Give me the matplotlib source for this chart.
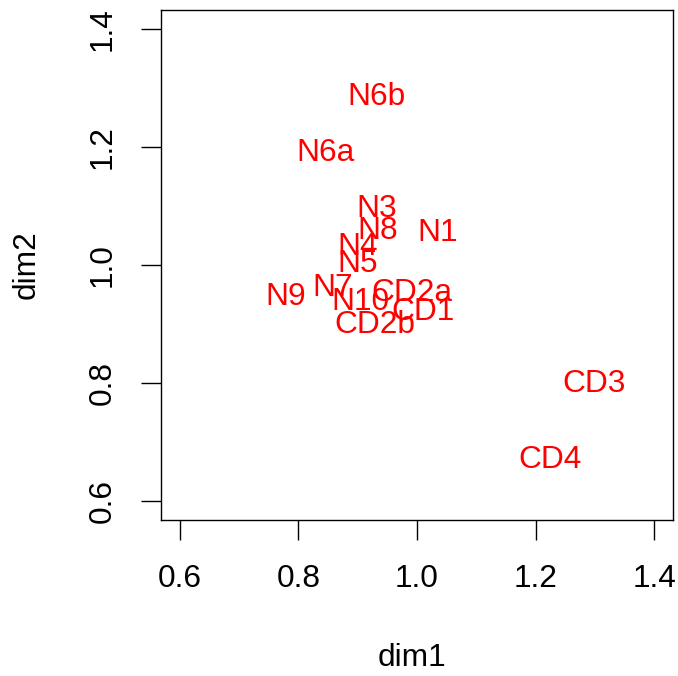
import matplotlib
matplotlib.use("Agg")
import matplotlib.pyplot as plt

plt.rcParams['font.family'] = ['Liberation Sans', 'DejaVu Sans']

labels = ['N1', 'N3', 'N8', 'N4', 'N5', 'N7', 'N9', 'CD2a', 'N10', 'CD1',
          'CD2b', 'N6b', 'N6a', 'CD3', 'CD4']
dim1 = [1.034, 0.932, 0.934, 0.900, 0.900, 0.857, 0.779, 0.992, 0.905, 1.010,
        0.929, 0.932, 0.845, 1.299, 1.224]
dim2 = [1.055, 1.095, 1.058, 1.031, 1.002, 0.961, 0.946, 0.953, 0.938, 0.921,
        0.899, 1.285, 1.189, 0.799, 0.670]
ticks = [0.6, 0.8, 1.0, 1.2, 1.4]

W, H = 678, 676
fig = plt.figure(figsize=(W / 100, H / 100), dpi=100)
ax = fig.add_axes([161 / W, 1 - 520 / H, (673 - 161) / W, (520 - 10) / H])

for lab, x, y in zip(labels, dim1, dim2):
    ax.text(x, y, lab, color='red', fontsize=22.8, ha='center', va='center')

ax.set_xlim(0.568, 1.432)
ax.set_ylim(0.568, 1.432)
ax.set_xticks(ticks)
ax.set_yticks(ticks)
ax.set_xticklabels([f'{t:.1f}' for t in ticks])
ax.set_yticklabels([f'{t:.1f}' for t in ticks], rotation=90, va='center')
ax.tick_params(direction='out', length=14.4, width=1, labelsize=22.8, pad=17)
for s in ax.spines.values():
    s.set_linewidth(1)

fig.text(412 / W, 1 - 658 / H, 'dim1', fontsize=22.8, ha='center', va='center')
fig.text(27 / W, 1 - 265 / H, 'dim2', fontsize=22.8, ha='center', va='center',
         rotation=90)

fig.savefig('out.png', dpi=100)
